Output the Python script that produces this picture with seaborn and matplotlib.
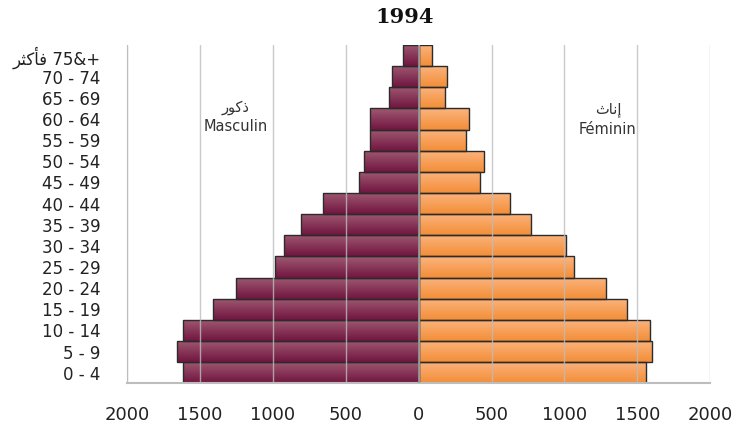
import numpy as np
import pandas as pd
import matplotlib
matplotlib.use('Agg')
import matplotlib.pyplot as plt
import seaborn as sns
from matplotlib.colors import LinearSegmentedColormap

# age groups, bottom to top; Arabic kept as pre-shaped presentation forms (visual order)
AGE_GROUPS = ['0 - 4', '5 - 9', '10 - 14', '15 - 19', '20 - 24', '25 - 29', '30 - 34',
              '35 - 39', '40 - 44', '45 - 49', '50 - 54', '55 - 59', '60 - 64',
              '65 - 69', '70 - 74', '\uFEAE\uFE9C\uFEDB\uFE84\uFED3 75&+']
MALE   = [1619, 1660, 1619, 1413, 1252, 982, 925, 810, 657, 410, 376, 332, 332, 204, 183, 105]
FEMALE = [1561, 1598, 1589, 1431, 1287, 1065, 1010, 771, 627, 421, 449, 325, 346, 181, 195, 92]
X_TICKS = [-2000, -1500, -1000, -500, 0, 500, 1000, 1500, 2000]
TITLE = '1994'
MALE_LABEL   = ['\uFEAD\uFEEE\uFEDB\uFEAB', 'Masculin']
FEMALE_LABEL = ['\uFE99\uFE8E\uFEE7\uFE87', 'Féminin']

order = AGE_GROUPS[::-1]
df = pd.DataFrame({
    'age': AGE_GROUPS * 2,
    'value': [-v for v in MALE] + FEMALE,
    'sex': ['M'] * len(MALE) + ['F'] * len(FEMALE),
})

sns.set_style('white')
plt.rcParams['font.family'] = ['DejaVu Sans']

fig = plt.figure(figsize=(7.39, 4.28), dpi=100)
ax = fig.add_axes([0.172, 0.1044, 0.789, 0.7906])

sns.barplot(data=df, x='value', y='age', hue='sex', order=order, hue_order=['M', 'F'],
            dodge=False, width=1.0, orient='h', ax=ax, legend=False,
            palette={'M': '#7d1f4a', 'F': '#f59341'}, edgecolor='#2b2b2b', linewidth=1.0)

# vertical gradient fill clipped to each bar
cmaps = {
    'M': LinearSegmentedColormap.from_list('m', ['#9e5a72', '#721540']),
    'F': LinearSegmentedColormap.from_list('f', ['#fbb47e', '#f38e38']),
}
grad = np.linspace(0, 1, 64).reshape(-1, 1)
for p in list(ax.patches):
    bb = p.get_bbox()
    x0, x1 = sorted([bb.x0, bb.x1])
    y0, y1 = sorted([bb.y0, bb.y1])
    if x1 - x0 == 0:
        continue
    key = 'M' if x0 < 0 else 'F'
    im = ax.imshow(grad, cmap=cmaps[key], aspect='auto', extent=[x0, x1, y1, y0],
                   origin='upper', zorder=1.5, interpolation='bilinear')
    im.set_clip_path(p)
    p.set_facecolor('none')
    p.set_zorder(2)

ax.set_xlim(-2000, 2000)
ax.set_ylim(len(order) - 0.5, -0.5)
ax.set_xticks(X_TICKS)
ax.set_xticklabels([str(abs(t)) for t in X_TICKS], fontsize=13, color='#222222')
ax.tick_params(axis='x', length=4, color='#b0b0b0', pad=12)
ax.tick_params(axis='y', length=0, pad=19, labelsize=12, labelcolor='#222222')
ax.set_xlabel('')
ax.set_ylabel('')
for t in X_TICKS:
    ax.axvline(t, color='#bdbdbd', lw=1.0, alpha=0.8, zorder=2.5)
ax.axvline(0, color='#999999', lw=1.2, zorder=2.6)

for s in ['top', 'right']:
    ax.spines[s].set_visible(False)
ax.spines['left'].set_color('#bdbdbd')
ax.spines['bottom'].set_color('#bdbdbd')
ax.spines['bottom'].set_linewidth(1.5)

ax.text(-1257, 2.44, MALE_LABEL[0], ha='center', va='center', fontsize=10.5, color='#333333')
ax.text(-1257, 3.38, MALE_LABEL[1], ha='center', va='center', fontsize=10.5, color='#333333')
ax.text(1298, 2.55, FEMALE_LABEL[0], ha='center', va='center', fontsize=10.5, color='#333333')
ax.text(1298, 3.5, FEMALE_LABEL[1], ha='center', va='center', fontsize=10.5, color='#333333')

fig.text(0.547, 0.96, TITLE, ha='center', va='center', fontsize=15, fontweight='bold',
         family='DejaVu Serif', color='#111111')

fig.savefig('out.png', dpi=100)
